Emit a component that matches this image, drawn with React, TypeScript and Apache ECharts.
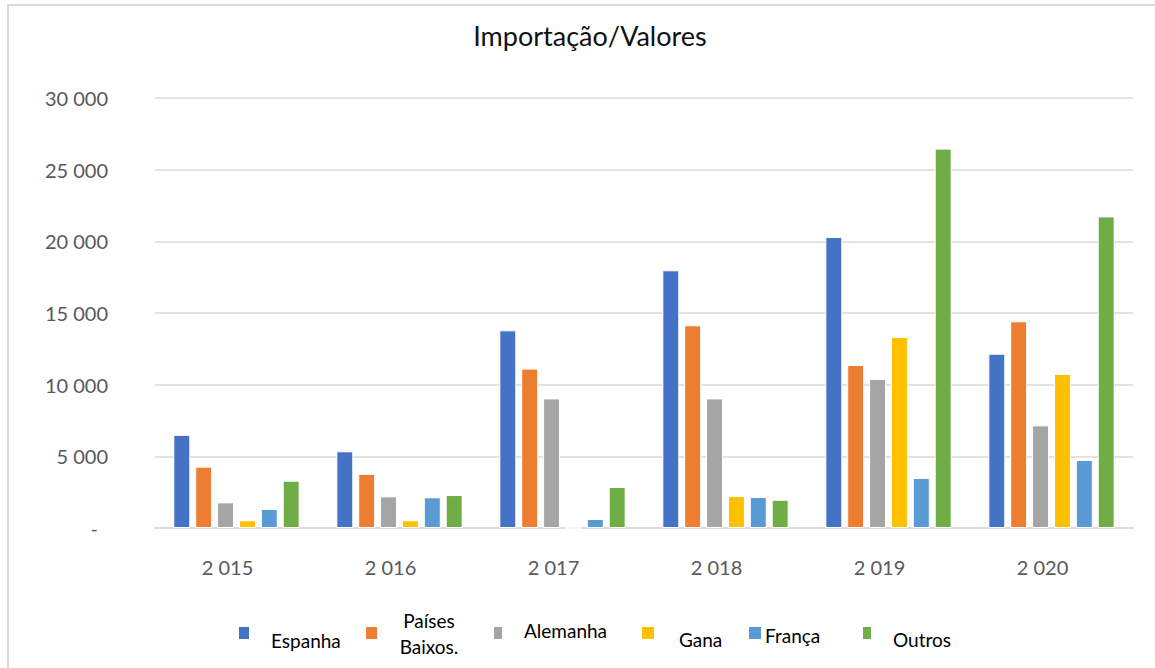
import React, { useEffect, useRef } from "react";
import * as echarts from "echarts";

const titleText = "Importação/Valores";
const years = ["2 015", "2 016", "2 017", "2 018", "2 019", "2 020"];
const seriesNames = ["Espanha", "Países Baixos.", "Alemanha", "Gana", "França", "Outros"];
const seriesColors = ["#4472C4", "#ED7D31", "#A5A5A5", "#FFC000", "#5B9BD5", "#70AD47"];

const espanha = [6500, 5350, 13790, 17980, 20300, 12160];
const paisesBaixos = [4280, 3770, 11120, 14140, 11370, 14420];
const alemanha = [1790, 2210, 9040, 9040, 10400, 7160];
const gana = [540, 540, 0, 2230, 13330, 10750];
const franca = [1330, 2140, 630, 2160, 3490, 4750];
const outros = [3300, 2300, 2860, 1970, 26470, 21740];
const seriesValues = [espanha, paisesBaixos, alemanha, gana, franca, outros];

const yMin = 0;
const yMax = 30000;
const yStep = 5000;

// legend layout (positions only)
const legendLayout = [
  { mx: 239, mw: 10, tx: 271, ty: 640, align: "left" },
  { mx: 366, mw: 11, tx: 429, ty: 633, align: "center" },
  { mx: 494, mw: 8, tx: 524, ty: 630, align: "left" },
  { mx: 642, mw: 12, tx: 679, ty: 639, align: "left" },
  { mx: 749, mw: 12, tx: 765, ty: 635, align: "left" },
  { mx: 863, mw: 8, tx: 893, ty: 639, align: "left" },
];

const FONT = "Lato, 'Open Sans', sans-serif";

function fmt(v: number): string {
  return String(v).replace(/\B(?=(\d{3})+(?!\d))/g, " ");
}

export default function App() {
  const ref = useRef<HTMLDivElement>(null);

  useEffect(() => {
    document.body.style.margin = "0";
    if (!ref.current) return;
    const chart = echarts.init(ref.current, undefined, { renderer: "svg" });

    const legendGraphics: any[] = [];
    seriesNames.forEach((name, i) => {
      const l = legendLayout[i];
      legendGraphics.push({
        type: "rect",
        shape: { x: l.mx, y: 627, width: l.mw, height: 12 },
        style: { fill: seriesColors[i] },
        silent: true,
      });
      legendGraphics.push({
        type: "text",
        x: l.tx,
        y: l.ty,
        style: {
          text: name === "Países Baixos." ? "Países\nBaixos." : name,
          fill: "#000000",
          fontSize: 19,
          fontFamily: FONT,
          align: l.align,
          verticalAlign: "middle",
          lineHeight: 26,
        },
        silent: true,
      });
    });

    chart.setOption({
      animation: false,
      backgroundColor: "#ffffff",
      title: {
        text: titleText,
        left: 585,
        top: 17,
        textAlign: "center",
        textStyle: { fontFamily: FONT, fontSize: 27, fontWeight: "normal", color: "#111111" },
      },
      grid: { left: 155, right: 22, top: 98, bottom: 140, containLabel: false },
      xAxis: {
        type: "category",
        data: years,
        axisTick: { show: false },
        axisLine: { lineStyle: { color: "#d9d9d9", width: 1.5 } },
        axisLabel: {
          color: "#595959",
          fontFamily: FONT,
          fontSize: 20,
          margin: 29,
          padding: [0, 18, 0, 0],
        },
      },
      yAxis: {
        type: "value",
        min: yMin,
        max: yMax,
        interval: yStep,
        axisLine: { show: false },
        axisTick: { show: false },
        splitLine: { lineStyle: { color: "#d9d9d9", width: 1.5 } },
        axisLabel: {
          color: "#595959",
          fontFamily: FONT,
          fontSize: 20,
          margin: 47,
          formatter: (v: number) => (v === 0 ? "{z|-}" : fmt(v)),
          rich: {
            z: { color: "#595959", fontFamily: FONT, fontSize: 20, padding: [0, 10, 0, 0] },
          },
        },
      },
      series: seriesNames.map((name, i) => ({
        name,
        type: "bar",
        data: seriesValues[i],
        barGap: "29%",
        barCategoryGap: "22.5%",
        itemStyle: { color: seriesColors[i], borderColor: "#ffffff", borderWidth: 1 },
      })),
      graphic: [
        {
          type: "rect",
          shape: { x: 8, y: 5, width: 1200, height: 700 },
          style: { fill: "none", stroke: "#d9d9d9", lineWidth: 2 },
          silent: true,
        },
        ...legendGraphics,
      ],
    });

    return () => chart.dispose();
  }, []);

  return <div ref={ref} style={{ width: 1155, height: 668 }} />;
}
